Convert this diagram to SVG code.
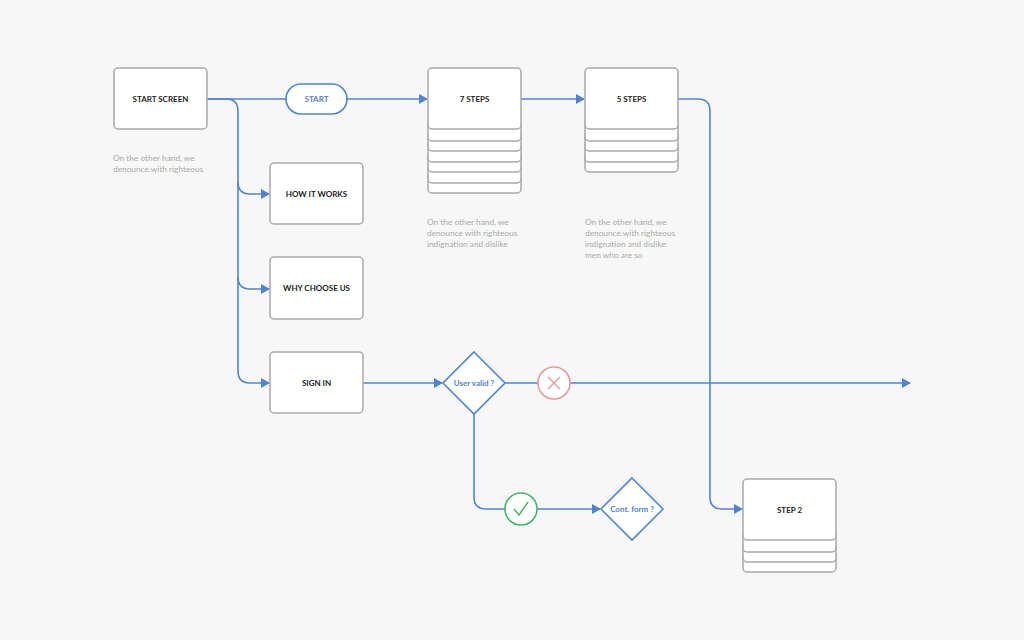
<svg xmlns="http://www.w3.org/2000/svg" width="1024" height="640" viewBox="0 0 1024 640">
<defs>
<marker id="ar" markerWidth="10" markerHeight="10" refX="8" refY="5" orient="auto" markerUnits="userSpaceOnUse"><path d="M0,0 L9,5 L0,10 Z" fill="#4f84d4"/></marker>
<style>
.box{fill:#fff;stroke:#a9a9a9;stroke-width:1.5}
.lbl{font-family:Lato,"Liberation Sans",sans-serif;font-size:8px;font-weight:bold;fill:#222;text-anchor:middle}
.blbl{font-family:Lato,"Liberation Sans",sans-serif;font-size:8px;font-weight:bold;fill:#4f84d4;text-anchor:middle}
.note{font-family:Lato,"Liberation Sans",sans-serif;font-size:8.3px;fill:#aaa}
.ln{fill:none;stroke:#4f84d4;stroke-width:1.6}
.dia{fill:#fff;stroke:#4f84d4;stroke-width:1.6}
</style>
</defs>
<rect width="1024" height="640" fill="#f7f7f7"/>
<g id="connectors">
<path class="ln" d="M207,99 H286"/>
<path class="ln" d="M347,99 H427" marker-end="url(#ar)"/>
<path class="ln" d="M521,99 H584" marker-end="url(#ar)"/>
<path class="ln" d="M207,99 H226 Q238,99 238,111 V371 Q238,383 250,383 H269" marker-end="url(#ar)"/>
<path class="ln" d="M238,182 Q238,194 250,194 H269" marker-end="url(#ar)"/>
<path class="ln" d="M238,277 Q238,289 250,289 H269" marker-end="url(#ar)"/>
<path class="ln" d="M363,383 H442" marker-end="url(#ar)"/>
<path class="ln" d="M505,383 H538 M570,383 H910" marker-end="url(#ar)"/>
<path class="ln" d="M474,414 V497 Q474,509 486,509 H505 M537,509 H600" marker-end="url(#ar)"/>
<path class="ln" d="M678,99 H698 Q710,99 710,111 V497 Q710,509 722,509 H742" marker-end="url(#ar)"/>
</g>
<g id="start-screen"><rect class="box" x="114" y="68" width="93" height="61" rx="4"/><text class="lbl" x="160.5" y="102">START SCREEN</text></g>
<g id="note1"><text class="note" x="113" y="161">On the other hand, we</text><text class="note" x="113" y="172">denounce with righteous</text></g>
<g id="start"><rect x="286" y="84" width="61" height="30" rx="15" fill="#fff" stroke="#4f84d4" stroke-width="1.6"/><text class="blbl" x="316.5" y="102" font-weight="normal">START</text></g>
<g id="seven-steps">
<rect class="box" x="428" y="172" width="93" height="21" rx="4"/>
<rect class="box" x="428" y="162" width="93" height="21" rx="4"/>
<rect class="box" x="428" y="151" width="93" height="21" rx="4"/>
<rect class="box" x="428" y="141" width="93" height="21" rx="4"/>
<rect class="box" x="428" y="130" width="93" height="21" rx="4"/>
<rect class="box" x="428" y="120" width="93" height="21" rx="4"/>
<rect class="box" x="428" y="68" width="93" height="61" rx="4"/><text class="lbl" x="474.5" y="102">7 STEPS</text></g>
<g id="note2"><text class="note" x="427" y="225">On the other hand, we</text><text class="note" x="427" y="236">denounce with righteous</text><text class="note" x="427" y="247">indignation and dislike</text></g>
<g id="five-steps">
<rect class="box" x="585" y="151" width="93" height="21" rx="4"/>
<rect class="box" x="585" y="141" width="93" height="21" rx="4"/>
<rect class="box" x="585" y="130" width="93" height="21" rx="4"/>
<rect class="box" x="585" y="120" width="93" height="21" rx="4"/>
<rect class="box" x="585" y="68" width="93" height="61" rx="4"/><text class="lbl" x="631.5" y="102">5 STEPS</text></g>
<g id="note3"><text class="note" x="585" y="225">On the other hand, we</text><text class="note" x="585" y="236">denounce with righteous</text><text class="note" x="585" y="247">indignation and dislike</text><text class="note" x="585" y="258">men who are so</text></g>
<g id="how"><rect class="box" x="270" y="163" width="93" height="61" rx="4"/><text class="lbl" x="316.5" y="197">HOW IT WORKS</text></g>
<g id="why"><rect class="box" x="270" y="257" width="93" height="62" rx="4"/><text class="lbl" x="316.5" y="291">WHY CHOOSE US</text></g>
<g id="signin"><rect class="box" x="270" y="352" width="93" height="61" rx="4"/><text class="lbl" x="316.5" y="386">SIGN IN</text></g>
<g id="user-valid"><path class="dia" d="M474,352 L505,383 L474,414 L443,383 Z"/><text class="blbl" x="474" y="386" font-size="7.5">User valid ?</text></g>
<g id="fail"><circle cx="554" cy="383" r="16" fill="#fff" stroke="#e59a9a" stroke-width="1.6"/><path d="M548,377 L560,389 M560,377 L548,389" stroke="#e59a9a" stroke-width="1.4"/></g>
<g id="ok"><circle cx="521" cy="509" r="16" fill="#fff" stroke="#3fb865" stroke-width="1.6"/><path d="M514,509 L519,515 L528,502" fill="none" stroke="#3fb865" stroke-width="1.4"/></g>
<g id="cont-form"><path class="dia" d="M632,478 L663,509 L632,540 L601,509 Z"/><text class="blbl" x="632" y="512" font-size="7.5">Cont. form ?</text></g>
<g id="step2">
<rect class="box" x="743" y="551" width="93" height="21" rx="4"/>
<rect class="box" x="743" y="541" width="93" height="21" rx="4"/>
<rect class="box" x="743" y="531" width="93" height="21" rx="4"/>
<rect class="box" x="743" y="479" width="93" height="61" rx="4"/><text class="lbl" x="789.5" y="513">STEP 2</text></g>
</svg>
